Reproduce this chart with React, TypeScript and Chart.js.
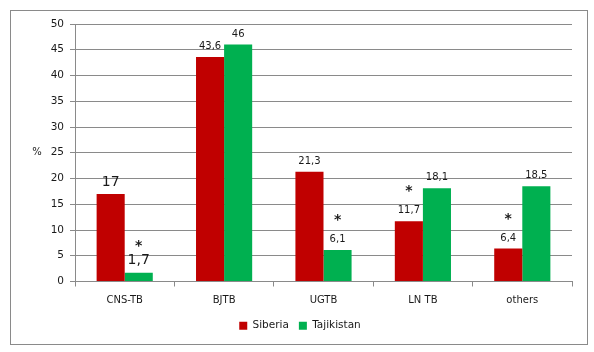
import React, { useEffect, useRef } from "react";
import { Chart, registerables } from "chart.js";

Chart.register(...registerables);

const categories = ["CNS-TB", "BJTB", "UGTB", "LN TB", "others"];
const siberia = [17, 43.6, 21.3, 11.7, 6.4];
const tajikistan = [1.7, 46, 6.1, 18.1, 18.5];
const siberiaMarks = ["", "", "", "*", "*"];
const tajikistanMarks = ["*", "", "*", "", ""];
const yTicks = [0, 5, 10, 15, 20, 25, 30, 35, 40, 45, 50];
const yUnit = "%";

const FONT = "'DejaVu Sans', Verdana, sans-serif";
const labelSizes = [14, 10, 10, 10, 10];
const marks = [siberiaMarks, tajikistanMarks];

const fmt = (v: number) => String(v).replace(".", ",");

const framePlugin = {
  id: "frame",
  beforeDraw(chart: any) {
    const ctx = chart.ctx;
    ctx.save();
    ctx.fillStyle = "#ffffff";
    ctx.fillRect(0, 0, chart.width, chart.height);
    ctx.strokeStyle = "#8a8a8a";
    ctx.lineWidth = 1;
    ctx.strokeRect(10.5, 10.5, 577, 334);
    ctx.restore();
  },
  afterDraw(chart: any) {
    const ctx = chart.ctx;
    const y = chart.scales.y;
    ctx.save();
    ctx.fillStyle = "#222";
    ctx.font = `10px ${FONT}`;
    ctx.textAlign = "center";
    ctx.textBaseline = "middle";
    ctx.fillText(yUnit, 37, y.getPixelForValue(25));
    ctx.restore();
  },
};

const labelPlugin = {
  id: "barLabels",
  afterDatasetsDraw(chart: any) {
    const ctx = chart.ctx;
    ctx.save();
    ctx.fillStyle = "#1a1a1a";
    ctx.textAlign = "center";
    chart.data.datasets.forEach((ds: any, di: number) => {
      const meta = chart.getDatasetMeta(di);
      meta.data.forEach((el: any, i: number) => {
        const size = labelSizes[i];
        const big = size > 10;
        const ly = el.y - (big ? 12 : 10.5);
        ctx.font = `${size}px ${FONT}`;
        ctx.textBaseline = "middle";
        ctx.fillText(fmt(ds.data[i]), el.x, ly);
        const m = marks[di][i];
        if (m) {
          ctx.font = `bold 14px ${FONT}`;
          ctx.fillText(m, el.x, ly - (big ? 14 : 19));
        }
      });
    });
    ctx.restore();
  },
};

export default function App() {
  const ref = useRef<HTMLCanvasElement>(null);
  useEffect(() => {
    if (!ref.current) return;
    const chart = new Chart(ref.current, {
      type: "bar",
      data: {
        labels: categories,
        datasets: [
          { label: "Siberia", data: siberia, backgroundColor: "#C00000" },
          { label: "Tajikistan", data: tajikistan, backgroundColor: "#00B050" },
        ],
      },
      options: {
        responsive: false,
        animation: false,
        devicePixelRatio: 1,
        layout: { padding: { left: 28, right: 22, top: 24, bottom: 11 } },
        datasets: { bar: { categoryPercentage: 0.565, barPercentage: 1 } },
        plugins: {
          legend: {
            position: "bottom",
            labels: {
              boxWidth: 8,
              boxHeight: 8,
              padding: 10,
              color: "#1a1a1a",
              font: { family: FONT, size: 10.5 },
            },
          },
          tooltip: { enabled: false },
        },
        scales: {
          x: {
            afterFit: (s: any) => {
              s.height = 29;
            },
            grid: {
              display: true,
              offset: true,
              drawOnChartArea: false,
              drawTicks: true,
              tickLength: 5,
              color: "#8a8a8a",
            },
            border: { color: "#8a8a8a" },
            ticks: { color: "#1a1a1a", font: { family: FONT, size: 10 }, padding: 8 },
          },
          y: {
            min: 0,
            max: 50,
            afterFit: (s: any) => {
              s.width = 47;
            },
            afterBuildTicks: (s: any) => {
              s.ticks = yTicks.map((v) => ({ value: v }));
            },
            grid: { color: "#8a8a8a", tickLength: 5, drawTicks: true },
            border: { color: "#8a8a8a" },
            ticks: { color: "#1a1a1a", font: { family: FONT, size: 10.5 }, padding: 6 },
          },
        },
      },
      plugins: [framePlugin, labelPlugin],
    });
    return () => chart.destroy();
  }, []);
  return (
    <div style={{ position: "fixed", left: 0, top: 0, width: 594, height: 352 }}>
      <canvas ref={ref} width={594} height={352} style={{ display: "block", width: 594, height: 352 }} />
    </div>
  );
}
